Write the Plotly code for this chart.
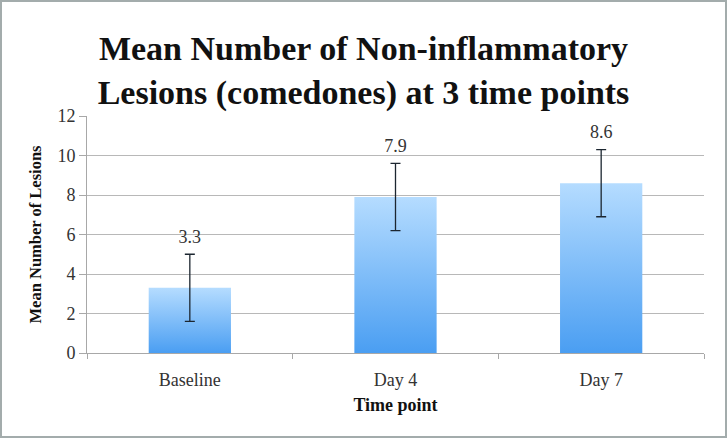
import plotly.graph_objects as go

categories = ["Baseline", "Day 4", "Day 7"]
means = [3.3, 7.9, 8.6]
errors = [1.7, 1.7, 1.7]
value_labels = ["3.3", "7.9", "8.6"]
y_ticks = [0, 2, 4, 6, 8, 10, 12]

W, H = 727, 438
ML, MR, MT, MB = 87, 23, 116, 85
PW, PH = W - ML - MR, H - MT - MB

bar_half = 0.2
light = "#b5dcff"
dark = "#4a9ef2"
serif = "Liberation Serif"

fig = go.Figure()

# gradient bars
for i, v in enumerate(means):
    fig.add_trace(go.Scatter(
        x=[i - bar_half, i - bar_half, i + bar_half, i + bar_half, i - bar_half],
        y=[0, v, v, 0, 0],
        mode="lines", line=dict(width=0), fill="toself",
        fillgradient=dict(type="vertical", colorscale=[[0, dark], [1, light]]),
        showlegend=False, hoverinfo="skip"))

# error bars
fig.add_trace(go.Scatter(
    x=list(range(len(categories))), y=means, mode="markers",
    marker=dict(size=1, color="rgba(0,0,0,0)"),
    error_y=dict(type="data", array=errors, visible=True, color="#1c2630", thickness=1.3, width=5),
    showlegend=False))

# value labels
fig.add_trace(go.Scatter(
    x=list(range(len(categories))), y=[m + e for m, e in zip(means, errors)],
    mode="markers+text", text=value_labels, textposition="top center",
    marker=dict(size=10, color="rgba(0,0,0,0)"),
    textfont=dict(family=serif, size=18, color="#333333"),
    showlegend=False, hoverinfo="skip"))

n = len(categories)
fig.update_layout(
    width=W, height=H,
    margin=dict(l=ML, r=MR, t=MT, b=MB),
    paper_bgcolor="white", plot_bgcolor="white",
    title=dict(text="<b>Mean Number of Non-inflammatory<br>Lesions (comedones) at 3 time points</b>",
               x=0.5, xanchor="center", y=1 - 60 / H, yanchor="top",
               font=dict(family=serif, size=34, color="#111111")),
    xaxis=dict(range=[-0.5, n - 0.5], tickmode="array", tickvals=list(range(n)), ticktext=categories,
               ticks="", showgrid=False, showline=True, linecolor="#a8a8a8", linewidth=1,
               tickfont=dict(family=serif, size=18, color="#333333"), ticklabelstandoff=10,
               minor=dict(tickmode="array", tickvals=[k - 0.5 for k in range(n + 1)],
                          ticks="outside", ticklen=5, tickcolor="#a8a8a8", showgrid=False),
               title=dict(text="<b>Time point</b>", font=dict(family=serif, size=18, color="#111111"), standoff=9),
               zeroline=False, fixedrange=True),
    yaxis=dict(range=[0, 12], tickmode="array", tickvals=y_ticks,
               ticks="outside", ticklen=7, tickcolor="#a8a8a8",
               showgrid=True, gridcolor="#b8b8b8", gridwidth=1,
               showline=True, linecolor="#a8a8a8", linewidth=1, zeroline=False,
               tickfont=dict(family=serif, size=18, color="#333333"),
               title=dict(text="<b>Mean Number of Lesions</b>", font=dict(family=serif, size=16.5, color="#111111"), standoff=11)),
)

# outer frame
fig.add_shape(type="rect", xref="paper", yref="paper",
              x0=-(ML - 1) / PW, x1=1 + (MR - 1) / PW, y0=-(MB - 1) / PH, y1=1 + (MT - 1) / PH,
              line=dict(color="#a3acac", width=2), fillcolor="rgba(0,0,0,0)", layer="above")

fig.write_html("out.html", config={"displayModeBar": False},
               post_script="document.body.style.margin='0';document.body.style.overflow='hidden';")
